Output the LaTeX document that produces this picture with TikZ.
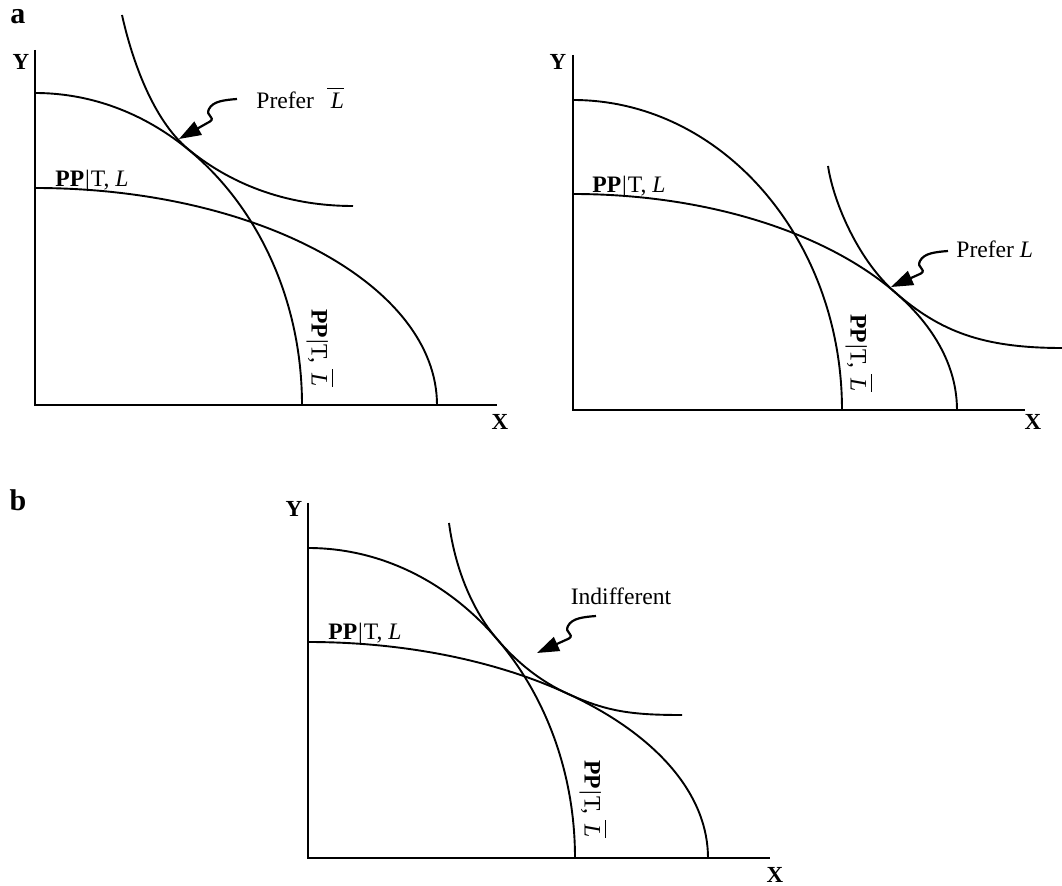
\documentclass[tikz,border=0pt]{standalone}
\usepackage{fontspec}
\setmainfont{Liberation Serif}
\usetikzlibrary{calc, positioning}
\usetikzlibrary{arrows.meta}

\begin{document}
\begin{tikzpicture}[x=0.5pt, y=0.5pt,
  axisline/.style={line width=1.1pt},
  ppf/.style={line width=0.95pt},
  icurve/.style={line width=0.95pt},
  squig/.style={line width=1.1pt, -{Triangle[length=11pt, width=7.5pt]}},
  lbl/.style={inner sep=0pt, font=\fontsize{11.8}{14}\selectfont},
  axlbl/.style={inner sep=0pt, font=\fontsize{11.5}{13}\selectfont\bfseries},
  panellbl/.style={inner sep=0pt, font=\fontsize{15}{18}\selectfont\bfseries}]
\useasboundingbox (0,0) rectangle (1062,885);

\def\Lbar{$\overline{\mbox{\itshape\,L}\rule{0pt}{9pt}}$}
\def\ppL{\textbf{PP}\kern0.5pt|\kern0.5pt T, \textit{L}}
\def\ppLbar{\textbf{PP}\kern0.5pt|\kern0.5pt T, \Lbar}
\def\squiggle#1#2{%
  \draw[squig] (#1) .. controls ($(#1)+(-12,-1)$) and ($(#1)+(-24,-2)$) .. ($(#1)+(-28,-10)$)
    .. controls ($(#1)+(-32,-17)$) and ($(#1)+(-21,-18)$) .. ($(#1)+(-27,-22.5)$) -- (#2);}

% panel a, left
\node[panellbl] (pa) at (18,868) {a};
\coordinate (O1) at (35,480);
\draw[axisline] (35,835) -- (O1) -- (497,480);
\node[axlbl] (y1) at (21,823) {Y};
\node[axlbl] (x1) at (500,463) {X};

\draw[ppf] (35,792) arc[start angle=90, end angle=0, x radius=267, y radius=312];
\draw[ppf] (35,697) arc[start angle=90, end angle=0, x radius=402, y radius=217];
\draw[icurve] (122,870) .. controls (132,825) and (153,765) .. (188,736)
  .. controls (228,703) and (283,679) .. (353,679);

\node[lbl, anchor=base west] (ppA1) at (55,698) {\ppL};
\node[lbl, rotate=-90] (ppA2) at (320,537) {\ppLbar};
\node[lbl, anchor=west] (prefA) at (256,787) {Prefer\hspace{0.55em}\Lbar};
\coordinate (sA) at (237,786);
\coordinate (tA) at (179,746);
\squiggle{sA}{tA}

% panel a, right
\coordinate (O2) at (573,475);
\draw[axisline] (573,830) -- (O2) -- (1025,475);
\node[axlbl] (y2) at (558,823) {Y};
\node[axlbl] (x2) at (1033,463) {X};

\draw[ppf] (573,785) arc[start angle=90, end angle=0, x radius=269, y radius=310];
\draw[ppf] (573,691) arc[start angle=90, end angle=0, x radius=384, y radius=216];
\draw[icurve] (828,719) .. controls (834,680) and (860,623) .. (895,592.7)
  .. controls (940,553.7) and (982,537) .. (1062,537);

\node[lbl, anchor=base west] (ppB1) at (592,692) {\ppL};
\node[lbl, rotate=-90] (ppB2) at (859,532) {\ppLbar};
\node[lbl, anchor=west] (prefB) at (956,636) {Prefer \textit{L}};
\coordinate (sB) at (948,634);
\coordinate (tB) at (891,598);
\squiggle{sB}{tB}

% panel b
\node[panellbl] (pb) at (18,385) {b};
\coordinate (O3) at (308,27);
\draw[axisline] (308,382) -- (O3) -- (770,27);
\node[axlbl] (y3) at (294,376) {Y};
\node[axlbl] (x3) at (775,10) {X};

\draw[ppf] (308,337) arc[start angle=90, end angle=0, x radius=267, y radius=310];
\draw[ppf] (308,243) arc[start angle=90, end angle=0, x radius=400, y radius=216];
\draw[icurve] (449,362) .. controls (455,317) and (472,275) .. (497,245.9)
  .. controls (517.9,221.5) and (541.3,203.4) .. (567,191.6)
  .. controls (607,173.2) and (632,170) .. (682,170);

\node[lbl, anchor=base west] (ppC1) at (328,245) {\ppL};
\node[lbl, rotate=-90] (ppC2) at (593,86) {\ppLbar};
\node[lbl] (indiff) at (621,289) {Indifferent};
\coordinate (sC) at (596,269);
\coordinate (tC) at (537,232);
\squiggle{sC}{tC}

\end{tikzpicture}
\end{document}
